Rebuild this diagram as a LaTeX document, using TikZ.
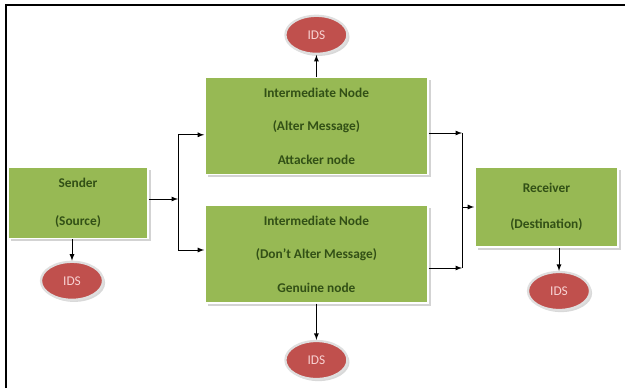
\documentclass[tikz,border=0pt]{standalone}
\usepackage{fontspec}
\setmainfont{Carlito}
\usepackage{tikz}
\usetikzlibrary{calc,shapes.geometric,shadows}
\usepackage{xcolor}
\definecolor{boxgreen}{RGB}{151,185,84}
\definecolor{textgreen}{RGB}{50,80,22}
\definecolor{idsred}{RGB}{192,80,77}
\definecolor{idstext}{RGB}{248,210,210}

\begin{document}
\begin{tikzpicture}[>=latex, semithick]
\tikzstyle{station} = [fill=boxgreen, draw=white, line width=1pt,
            text=textgreen, font=\fontsize{9.5}{11}\selectfont\bfseries,
            align=center, drop shadow={shadow xshift=2pt, shadow yshift=-2pt,
            opacity=0.35}];
\tikzstyle{ids} = [ellipse, fill=idsred, draw=gray!25, line width=1.6pt,
            minimum width=1.55cm, minimum height=0.95cm, text=idstext,
            font=\fontsize{9.5}{11}\selectfont, drop shadow={shadow xshift=1.5pt,
            shadow yshift=-1.5pt, opacity=0.3}];

    \useasboundingbox (0,0) rectangle (15.625,-9.7);
    \draw[line width=1.4pt] (0.15,-9.7) -- (0.15,-0.125) -- (15.625,-0.125);

    \node (sender) at (1.95,-5.075) [station, minimum width=3.5cm,
        minimum height=1.775cm] {Sender\\[0.55cm](Source)};
    \node (inter1) at (7.91,-3.15) [station, minimum width=5.575cm,
        minimum height=2.425cm]
        {Intermediate Node\\[0.45cm](Alter Message)\\[0.45cm]Attacker node};
    \node (inter2) at (7.91,-6.35) [station, minimum width=5.575cm,
        minimum height=2.45cm]
        {Intermediate Node\\[0.45cm](Don't Alter Message)\\[0.45cm]Genuine node};
    \node (recv) at (13.66,-5.175) [station, minimum width=3.575cm,
        minimum height=2cm] {Receiver\\[0.5cm](Destination)};

    \node (ids0) at (1.8,-7.02) [ids] {IDS};
    \node (ids1) [above of=inter1, node distance=2.28cm, ids] {IDS};
    \node (ids2) [below of=inter2, node distance=2.65cm, ids] {IDS};
    \node (ids3) at (13.975,-7.275) [ids] {IDS};

    \draw[->] (ids0 |- sender.south) -- (ids0);
    \draw[->] (inter1) -- (ids1);
    \draw[->] (inter2) -- (ids2);
    \draw[->] (ids3 |- recv.south) -- (ids3);

    % split after sender
    \coordinate (split) at (4.45,-4.975);
    \draw[->] (sender.east |- split) -- (split);
    \draw[->] (split) |- ($(inter1.west) - (0,0.22)$);
    \draw[->] (split) |- ($(inter2.west) + (0,0.1)$);

    % join before receiver
    \coordinate (join1) at (11.55,-3.325);
    \coordinate (join2) at (11.55,-6.7);
    \draw[->] (inter1.east |- join1) -- (join1);
    \draw[->] (inter2.east |- join2) -- (join2);
    \draw (join1) -- (join2);
    \draw[->] (join1 |- recv.west) -- (recv.west);

\end{tikzpicture}
\end{document}
